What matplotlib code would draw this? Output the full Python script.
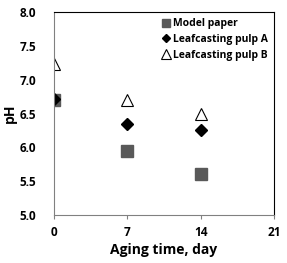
import matplotlib
matplotlib.use("Agg")
import matplotlib.pyplot as plt

plt.rcParams['font.family'] = ['Open Sans', 'DejaVu Sans']
plt.rcParams['font.weight'] = 'bold'

days = [0, 7, 14]
model_paper = [6.70, 5.95, 5.60]
pulp_a = [6.72, 6.35, 6.25]
pulp_b = [7.23, 6.70, 6.50]

fig = plt.figure(figsize=(2.87, 2.63), dpi=100)
ax = fig.add_axes([54 / 287, 1 - 215 / 263, 220 / 287, 203 / 263])

ax.plot(days, model_paper, linestyle='none', marker='s', markersize=8.5,
        color='#595959', label='Model paper')
ax.plot(days, pulp_a, linestyle='none', marker='D', markersize=6,
        color='black', label='Leafcasting pulp A')
ax.plot(days, pulp_b, linestyle='none', marker='^', markersize=9,
        markerfacecolor='white', markeredgecolor='black', markeredgewidth=0.8,
        label='Leafcasting pulp B')

ax.set_xlim(0, 21)
ax.set_ylim(5.0, 8.0)
ax.set_xticks([0, 7, 14, 21])
ax.set_yticks([5.0, 5.5, 6.0, 6.5, 7.0, 7.5, 8.0])
ax.set_yticklabels([f"{v:.1f}" for v in ax.get_yticks()])
ax.tick_params(axis='both', labelsize=8.5, length=3, width=0.8, color='#808080')
ax.tick_params(axis='x', pad=5)
ax.tick_params(axis='y', length=0, pad=13)
for s in ax.spines.values():
    s.set_color('#808080')
    s.set_linewidth(0.8)
ax.spines['top'].set_color('black')
ax.spines['right'].set_color('black')

ax.set_xlabel('Aging time, day', fontsize=10, fontweight='bold', labelpad=3)
ax.set_ylabel('pH', fontsize=10, fontweight='bold', labelpad=2)

ax.legend(loc='upper right', frameon=False, handletextpad=0.2,
          handlelength=1.0, borderaxespad=0.2, labelspacing=0.45,
          markerscale=0.75, prop={'weight': 'bold', 'size': 7.5})

fig.savefig('out.png', dpi=100)
